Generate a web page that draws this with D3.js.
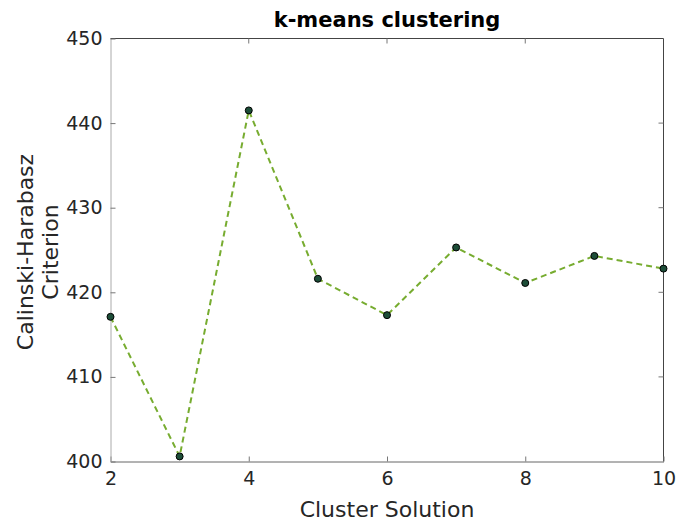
<!DOCTYPE html>
<html>
<head>
<meta charset="utf-8">
<script src="https://cdn.jsdelivr.net/npm/d3@7"></script>
<style>
  body { margin: 0; background: #fff; }
  text { font-family: "DejaVu Sans", sans-serif; }
</style>
</head>
<body>
<div class="canvas"></div>
<script>
// data
const clusters = [2, 3, 4, 5, 6, 7, 8, 9, 10]
const chValues = [417.1, 400.6, 441.5, 421.6, 417.3, 425.3, 421.1, 424.3, 422.8]
const xTicks = [2, 4, 6, 8, 10]
const yTicks = [400, 410, 420, 430, 440, 450]

const width = 678, height = 524
const axL = 110.5, axR = 663.5, axT = 38.5, axB = 461.5

const svg = d3.select('.canvas').append('svg')
    .attr('width', width)
    .attr('height', height)

const x = d3.scaleLinear().domain([2, 10]).range([axL, axR])
const y = d3.scaleLinear().domain([400, 450]).range([axB, axT])

// axes box
svg.append('line').attr('x1', axL).attr('x2', axR).attr('y1', axT).attr('y2', axT)
    .attr('stroke', '#444').attr('stroke-width', 1)
svg.append('line').attr('x1', axR).attr('x2', axR).attr('y1', axT).attr('y2', axB)
    .attr('stroke', '#444').attr('stroke-width', 1)

// bottom axis, ticks pointing inward
const xAxis = svg.append('g')
    .attr('transform', `translate(0, ${axB})`)
    .call(d3.axisBottom(x).tickValues(xTicks).tickSize(-5).tickSizeOuter(0).tickPadding(10))
xAxis.select('.domain').attr('stroke', '#666')
xAxis.selectAll('.tick line').attr('stroke', '#777')
xAxis.selectAll('text').attr('font-size', 19).attr('fill', '#262626')
    .attr('font-family', '"DejaVu Sans", sans-serif')

// top ticks
svg.append('g').selectAll('line').data(xTicks.slice(1, -1)).join('line')
    .attr('x1', d => x(d)).attr('x2', d => x(d))
    .attr('y1', axT).attr('y2', axT + 5)
    .attr('stroke', '#777')

// left axis
const yAxis = svg.append('g')
    .attr('transform', `translate(${axL}, 0)`)
    .call(d3.axisLeft(y).tickValues(yTicks).tickSize(-5).tickSizeOuter(0).tickPadding(8))
yAxis.select('.domain').attr('stroke', '#aaa')
yAxis.selectAll('.tick line').attr('stroke', '#777')
yAxis.selectAll('text').attr('font-size', 19).attr('fill', '#262626')
    .attr('font-family', '"DejaVu Sans", sans-serif')

// right ticks
svg.append('g').selectAll('line').data(yTicks.slice(1, -1)).join('line')
    .attr('x1', axR).attr('x2', axR - 5)
    .attr('y1', d => y(d)).attr('y2', d => y(d))
    .attr('stroke', '#777')

// dashed line
const line = d3.line()
    .x((d, i) => x(clusters[i]))
    .y(d => y(d))

svg.append('path')
    .datum(chValues)
    .attr('d', line)
    .attr('fill', 'none')
    .attr('stroke', '#77ac30')
    .attr('stroke-width', 2)
    .attr('stroke-dasharray', '6,4')

// markers
svg.append('g').selectAll('circle').data(chValues).join('circle')
    .attr('cx', (d, i) => x(clusters[i]))
    .attr('cy', d => y(d))
    .attr('r', 3.5)
    .attr('fill', '#1d4d38')
    .attr('stroke', '#000')
    .attr('stroke-width', 1)

// title
svg.append('text')
    .attr('x', (axL + axR) / 2)
    .attr('y', 27)
    .attr('text-anchor', 'middle')
    .attr('font-size', 21)
    .attr('font-weight', 'bold')
    .attr('fill', '#000')
    .text('k-means clustering')

// x label
svg.append('text')
    .attr('x', (axL + axR) / 2)
    .attr('y', 517)
    .attr('text-anchor', 'middle')
    .attr('font-size', 22)
    .attr('fill', '#262626')
    .text('Cluster Solution')

// y label, two lines
const yl = svg.append('text')
    .attr('transform', `translate(33, 252) rotate(-90)`)
    .attr('text-anchor', 'middle')
    .attr('font-size', 22)
    .attr('fill', '#262626')
yl.append('tspan').attr('x', 0).attr('dy', 0).text('Calinski-Harabasz')
yl.append('tspan').attr('x', 0).attr('dy', 25).text('Criterion')
</script>
</body>
</html>
